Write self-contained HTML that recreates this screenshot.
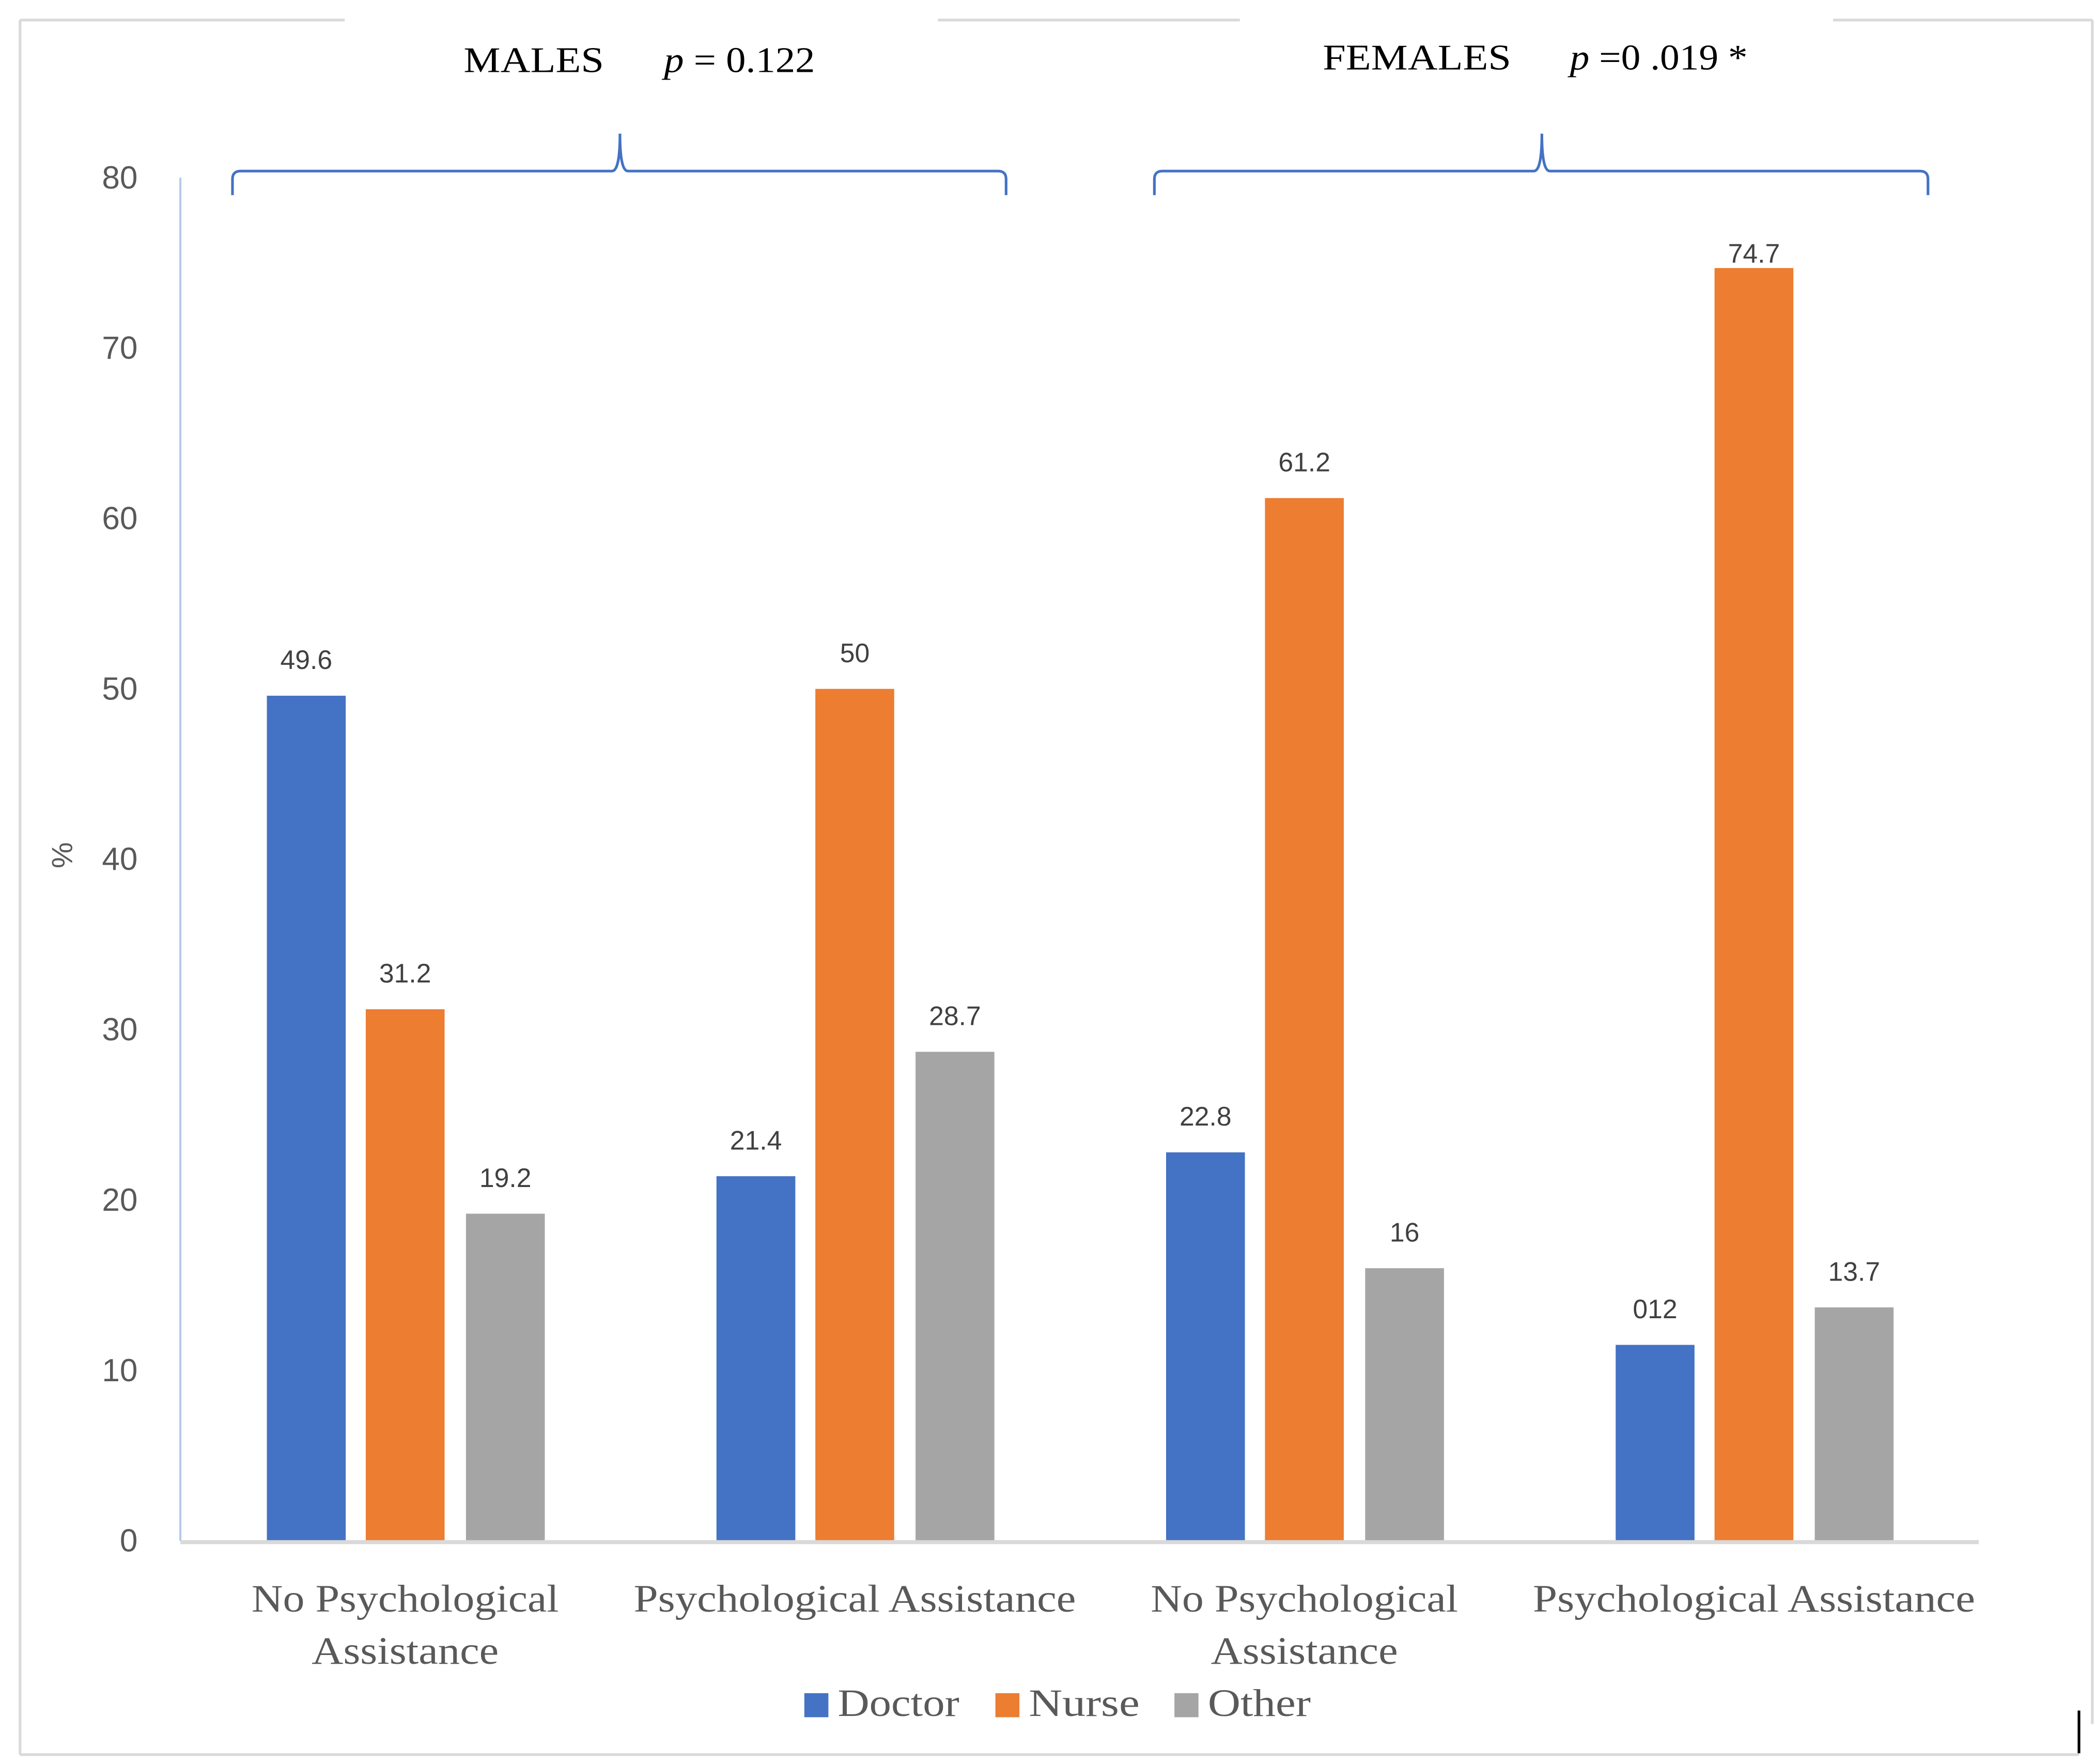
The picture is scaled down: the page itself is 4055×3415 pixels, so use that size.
<!DOCTYPE html>
<html><head><meta charset="utf-8"><style>
html,body{margin:0;padding:0;background:#fff;}
svg{display:block;}
</style></head><body>
<svg id="chart" width="4055" height="3415" viewBox="0 0 1568 1320" preserveAspectRatio="none" xmlns="http://www.w3.org/2000/svg">
<rect x="0" y="0" width="1568" height="1320" fill="#fff"/>
<g stroke="#d9d9d9" stroke-width="2" fill="none">
<line x1="15" y1="15" x2="258" y2="15"/>
<line x1="702" y1="15" x2="928" y2="15"/>
<line x1="1372" y1="15" x2="1566" y2="15"/>
<line x1="15" y1="15" x2="15" y2="1313"/>
<line x1="15" y1="1313" x2="1556" y2="1313"/>
<line x1="1566" y1="15" x2="1566" y2="1290"/>
</g>
<line x1="1556" y1="1280" x2="1556" y2="1312" stroke="#000" stroke-width="2"/>
<g font-family="'Liberation Serif',serif" font-size="27" fill="#000">
<text x="347" y="54" textLength="105" lengthAdjust="spacingAndGlyphs">MALES</text>
<text x="497" y="54" textLength="113" lengthAdjust="spacingAndGlyphs"><tspan font-style="italic">p</tspan> = 0.122</text>
</g>
<g font-family="'Liberation Serif',serif" font-size="27" fill="#000">
<text x="990" y="52" textLength="141" lengthAdjust="spacingAndGlyphs">FEMALES</text>
<text x="1175" y="52" textLength="133" lengthAdjust="spacingAndGlyphs"><tspan font-style="italic">p</tspan> =0 .019 *</text>
</g>
<path d="M174,146 L174,134 Q174,128 180,128 L458,128 Q464,128 464,100 Q464,128 470,128 L747,128 Q753,128 753,134 L753,146" fill="none" stroke="#4472c4" stroke-width="2"/>
<path d="M864,146 L864,134 Q864,128 870,128 L1148,128 Q1154,128 1154,100 Q1154,128 1160,128 L1437,128 Q1443,128 1443,134 L1443,146" fill="none" stroke="#4472c4" stroke-width="2"/>
<line x1="135" y1="133" x2="135" y2="1153" stroke="#b4c7e7" stroke-width="1.5"/>
<g id="yticks"></g>
<text transform="translate(54,640) rotate(-90)" text-anchor="middle" font-family="'Liberation Sans',sans-serif" font-size="22" fill="#595959">%</text>
<g id="bars"></g>
<line x1="135" y1="1154" x2="1481" y2="1154" stroke="#d9d9d9" stroke-width="3"/>
<g id="xlabels"></g>
<g id="legend"></g>
</svg>
<script>
const categories = [["No Psychological","Assistance"],["Psychological Assistance"],["No Psychological","Assistance"],["Psychological Assistance"]];
const seriesNames = ["Doctor","Nurse","Other"];
const doctor = [49.6, 21.4, 22.8, 11.5];
const nurse = [31.2, 50, 61.2, 74.7];
const other = [19.2, 28.7, 16, 13.7];
const valueLabels = [["49.6","21.4","22.8","012"],["31.2","50","61.2","74.7"],["19.2","28.7","16","13.7"]];
const yTicks = [0,10,20,30,40,50,60,70,80];
const colors = ["#4472c4","#ed7d31","#a5a5a5"];

const NS = "http://www.w3.org/2000/svg";
const x0 = 135, x1 = 1481, yBase = 1153, yTop = 133, yMax = 80;
function yScale(v){ return yBase - (v / yMax) * (yBase - yTop); }
function xCenter(i){ const w = (x1 - x0) / categories.length; return x0 + w * (i + 0.5); }
function mk(tag, attrs, parent){ const e = document.createElementNS(NS, tag); for (const k in attrs) e.setAttribute(k, attrs[k]); parent.appendChild(e); return e; }
function lineLen(s){ return s === "Assistance" ? 140 : (s === "No Psychological" ? 230 : 331); }

const yt = document.getElementById('yticks');
yTicks.forEach(t => {
  const e = mk('text', {x: 103, y: yScale(t) + 8, 'text-anchor': 'end', 'font-family': "'Liberation Sans',sans-serif", 'font-size': 24, fill: '#595959'}, yt);
  
  
  e.textContent = t;
});

const series = [doctor, nurse, other];
const offsets = [-74, 0, 75];
const barW = 59;
const bg = document.getElementById('bars');
series.forEach((vals, s) => {
  vals.forEach((v, i) => {
    const cx = xCenter(i) + offsets[s];
    const r = mk('rect', {x: cx - barW / 2, y: yScale(v), width: barW, height: yBase - yScale(v), fill: colors[s]}, bg);
    
    
    const t = mk('text', {x: cx, y: yScale(v) - (v > 70 ? 4 : 20), 'text-anchor': 'middle', 'font-family': "'Liberation Sans',sans-serif", 'font-size': 20, fill: '#404040'}, bg);
    
    
    t.textContent = valueLabels[s][i];
  });
});

const xl = document.getElementById('xlabels');
categories.forEach((lines, i) => {
  lines.forEach((ln, j) => {
    const t = mk('text', {x: xCenter(i) - lineLen(ln) / 2, y: 1206 + j * 39, 'font-family': "'Liberation Serif',serif", 'font-size': 29, fill: '#595959', textLength: lineLen(ln), lengthAdjust: 'spacingAndGlyphs'}, xl);
    
    
    t.textContent = ln;
  });
});

const lg = document.getElementById('legend');
const legX = [602, 745, 879];
const legW = [91, 83, 77];
seriesNames.forEach((n, s) => {
  const r = mk('rect', {x: legX[s], y: 1267, width: 18, height: 18, fill: colors[s]}, lg);
  
  
  const t = mk('text', {x: legX[s] + 25, y: 1284, 'font-family': "'Liberation Serif',serif", 'font-size': 29, fill: '#595959', textLength: legW[s], lengthAdjust: 'spacingAndGlyphs'}, lg);
  
  
  t.textContent = n;
});
</script>
</body></html>
